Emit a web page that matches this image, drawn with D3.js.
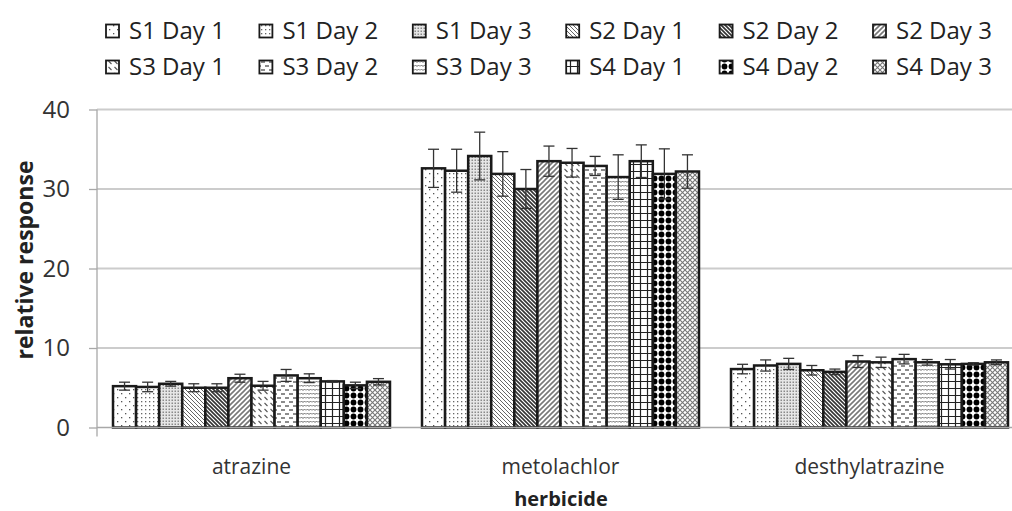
<!DOCTYPE html>
<html>
<head>
<meta charset="utf-8">
<script src="https://cdn.jsdelivr.net/npm/d3@7"></script>
<style>
  html, body { margin: 0; padding: 0; background: #fff; }
  svg { display: block; font-family: "Open Sans", "Noto Sans", sans-serif; }
</style>
</head>
<body>
<svg id="chart" width="1012" height="511"></svg>
<script>
// Herbicide categories and sampling series
const herbicides = ["atrazine", "metolachlor", "desthylatrazine"];
const seriesNames = [
  "S1 Day 1", "S1 Day 2", "S1 Day 3", "S2 Day 1", "S2 Day 2", "S2 Day 3",
  "S3 Day 1", "S3 Day 2", "S3 Day 3", "S4 Day 1", "S4 Day 2", "S4 Day 3"
];

// Mean relative response per series, one array per herbicide
const atrazineMeans        = [5.2, 5.1, 5.5, 5.0, 5.0, 6.2, 5.25, 6.55, 6.2, 5.8, 5.3, 5.75];
const metolachlorMeans     = [32.6, 32.3, 34.15, 31.9, 30.0, 33.5, 33.3, 32.9, 31.5, 33.5, 31.9, 32.2];
const desthylatrazineMeans = [7.35, 7.8, 8.0, 7.2, 7.0, 8.3, 8.2, 8.6, 8.2, 7.95, 8.0, 8.2];

// Standard deviations (error bar half-lengths)
const atrazineErr        = [0.5, 0.6, 0.3, 0.5, 0.5, 0.5, 0.55, 0.75, 0.55, 0.1, 0.4, 0.4];
const metolachlorErr     = [2.4, 2.7, 3.0, 2.8, 2.45, 1.9, 1.8, 1.2, 2.8, 2.05, 3.15, 2.1];
const desthylatrazineErr = [0.6, 0.7, 0.7, 0.6, 0.35, 0.75, 0.65, 0.6, 0.35, 0.6, 0.15, 0.3];

const yTicks = [0, 10, 20, 30, 40];

const meansBy = [atrazineMeans, metolachlorMeans, desthylatrazineMeans];
const errBy = [atrazineErr, metolachlorErr, desthylatrazineErr];

const rows = [];
herbicides.forEach((h, i) => {
  seriesNames.forEach((s, j) => {
    rows.push({ herbicide: h, series: s, idx: j, value: meansBy[i][j], err: errBy[i][j] });
  });
});

const svg = d3.select("#chart");
const W = 1012;

const plotLeft = 97, plotRight = 1024, plotTop = 109.5, plotBottom = 427.5;

const gap = 0.1036;
const x0 = d3.scaleBand().domain(herbicides).range([plotLeft, plotRight])
  .paddingInner(gap).paddingOuter(gap / 2);
const x1 = d3.scaleBand().domain(seriesNames).range([0, x0.bandwidth()]).padding(0);
const y = d3.scaleLinear().domain([0, 40]).range([plotBottom, plotTop]);

// ---------- fill patterns ----------
const defs = svg.append("defs");
function pat(id, w, h, draw, bg = "#fff") {
  const p = defs.append("pattern").attr("id", id)
    .attr("patternUnits", "userSpaceOnUse").attr("width", w).attr("height", h);
  p.append("rect").attr("width", w).attr("height", h).attr("fill", bg);
  draw(p);
}
// sparse dots
pat("p0", 8, 8, p => {
  p.append("rect").attr("x", 1).attr("y", 1).attr("width", 1.3).attr("height", 1.3).attr("fill", "#555");
  p.append("rect").attr("x", 5).attr("y", 5).attr("width", 1.3).attr("height", 1.3).attr("fill", "#555");
});
// denser dots
pat("p1", 4, 4, p => {
  p.append("rect").attr("x", 1).attr("y", 1).attr("width", 1.3).attr("height", 1.3).attr("fill", "#666");
});
// fine grey stipple
pat("p2", 3, 3, p => {
  p.append("rect").attr("x", 0.5).attr("y", 0.5).attr("width", 1.5).attr("height", 1.5).attr("fill", "#8a8a8a");
}, "#e6e6e6");
// light downward diagonal
pat("p3", 4, 4, p => {
  p.append("path").attr("d", "M-1,-1 L5,5 M-1,3 L1,5 M3,-1 L5,1")
    .attr("stroke", "#666").attr("stroke-width", 1);
});
// dark downward diagonal
pat("p4", 4, 4, p => {
  p.append("path").attr("d", "M-1,-1 L5,5 M-1,3 L1,5 M3,-1 L5,1")
    .attr("stroke", "#333").attr("stroke-width", 1.6);
});
// wide upward diagonal
pat("p5", 5, 5, p => {
  p.append("path").attr("d", "M-1,6 L6,-1 M-1,1 L1,-1 M4,6 L6,4")
    .attr("stroke", "#777").attr("stroke-width", 1.6);
});
// dashed downward diagonal
pat("p6", 6, 6, p => {
  p.append("path").attr("d", "M0.5,1 L3.5,4")
    .attr("stroke", "#555").attr("stroke-width", 1.1);
});
// small horizontal dashes
pat("p7", 8, 8, p => {
  p.append("path").attr("d", "M1,2 L5,2 M5,6 L9,6 M-3,6 L1,6")
    .attr("stroke", "#666").attr("stroke-width", 1.3);
});
// wave
pat("p8", 6, 4, p => {
  p.append("path").attr("d", "M0,2.5 L1.5,1 L3,2.5 L4.5,1 L6,2.5")
    .attr("stroke", "#666").attr("stroke-width", 1).attr("fill", "none");
});
// large grid
pat("p9", 7, 7, p => {
  p.append("path").attr("d", "M3.5,0 L3.5,7 M0,3.5 L7,3.5")
    .attr("stroke", "#222").attr("stroke-width", 1.2);
});
// large black dots
pat("p10", 7, 7, p => {
  p.append("circle").attr("cx", 3.5).attr("cy", 3.5).attr("r", 2.9).attr("fill", "#000");
});
// dotted diamond trellis
pat("p11", 5, 5, p => {
  p.append("path").attr("d", "M-1,-1 L6,6 M-1,6 L6,-1")
    .attr("stroke", "#777").attr("stroke-width", 1.1);
});
const fillFor = j => `url(#p${j})`;

// ---------- grid & axes ----------
const grid = svg.append("g");
grid.selectAll("line").data(yTicks.filter(t => t > 0)).join("line")
  .attr("x1", plotLeft).attr("x2", W)
  .attr("y1", d => y(d)).attr("y2", d => y(d))
  .attr("stroke", "#cccccc").attr("stroke-width", 1.8);

const yAxis = d3.axisLeft(y).tickValues(yTicks).tickSize(8).tickPadding(19);
const gy = svg.append("g").attr("transform", `translate(${plotLeft},0)`).call(yAxis);
gy.select(".domain").remove();
gy.selectAll(".tick line").attr("stroke", "#a8a8a8").attr("stroke-width", 1.3);
gy.selectAll(".tick text").attr("font-size", 24).attr("fill", "#333")
  .attr("font-family", "\"Open Sans\", sans-serif");

// vertical axis line (extends slightly below the baseline)
svg.append("line").attr("x1", plotLeft).attr("x2", plotLeft)
  .attr("y1", plotTop).attr("y2", plotBottom + 9)
  .attr("stroke", "#a8a8a8").attr("stroke-width", 1.3);

// ---------- bars ----------
const barG = svg.append("g");
barG.selectAll("rect").data(rows).join("rect")
  .attr("x", d => x0(d.herbicide) + x1(d.series))
  .attr("y", d => y(d.value))
  .attr("width", x1.bandwidth())
  .attr("height", d => y(0) - y(d.value))
  .attr("fill", d => fillFor(d.idx))
  .attr("stroke", "#1a1a1a").attr("stroke-width", 2.5);

// baseline
svg.append("line").attr("x1", plotLeft).attr("x2", W)
  .attr("y1", y(0)).attr("y2", y(0))
  .attr("stroke", "#a8a8a8").attr("stroke-width", 1.5);

// ---------- error bars ----------
const errG = svg.append("g").attr("stroke", "#333").attr("stroke-width", 1.3);
const cap = 5.5;
rows.forEach(d => {
  const cx = x0(d.herbicide) + x1(d.series) + x1.bandwidth() / 2;
  const yt = y(d.value + d.err), yb = y(d.value - d.err);
  errG.append("line").attr("x1", cx).attr("x2", cx).attr("y1", yt).attr("y2", yb);
  errG.append("line").attr("x1", cx - cap).attr("x2", cx + cap).attr("y1", yt).attr("y2", yt);
  errG.append("line").attr("x1", cx - cap).attr("x2", cx + cap).attr("y1", yb).attr("y2", yb);
});

// ---------- category labels ----------
svg.append("g").selectAll("text").data(herbicides).join("text")
  .attr("x", d => x0(d) + x0.bandwidth() / 2)
  .attr("y", 474)
  .attr("text-anchor", "middle")
  .attr("font-size", 21).attr("fill", "#333")
  .text(d => d);

// axis titles
svg.append("text").attr("x", 561).attr("y", 506)
  .attr("text-anchor", "middle").attr("font-size", 20).attr("font-weight", "bold")
  .attr("fill", "#222").text("herbicide");

svg.append("text")
  .attr("transform", "translate(33,260) rotate(-90)")
  .attr("text-anchor", "middle").attr("font-size", 23).attr("font-weight", "bold")
  .attr("fill", "#222").text("relative response");

// ---------- legend ----------
const legend = svg.append("g");
const colStep = 153.4, legX = 106, rowY = [31, 67];
seriesNames.forEach((s, j) => {
  const col = j % 6, row = Math.floor(j / 6);
  const gx = legX + col * colStep, gyy = rowY[row];
  legend.append("rect").attr("x", gx).attr("y", gyy - 6.5).attr("width", 13).attr("height", 13)
    .attr("fill", fillFor(j)).attr("stroke", "#1a1a1a").attr("stroke-width", 1.8);
  legend.append("text").attr("x", gx + 23).attr("y", gyy).attr("dy", "0.35em")
    .attr("font-size", 24).attr("fill", "#222").text(s);
});
</script>
</body>
</html>
